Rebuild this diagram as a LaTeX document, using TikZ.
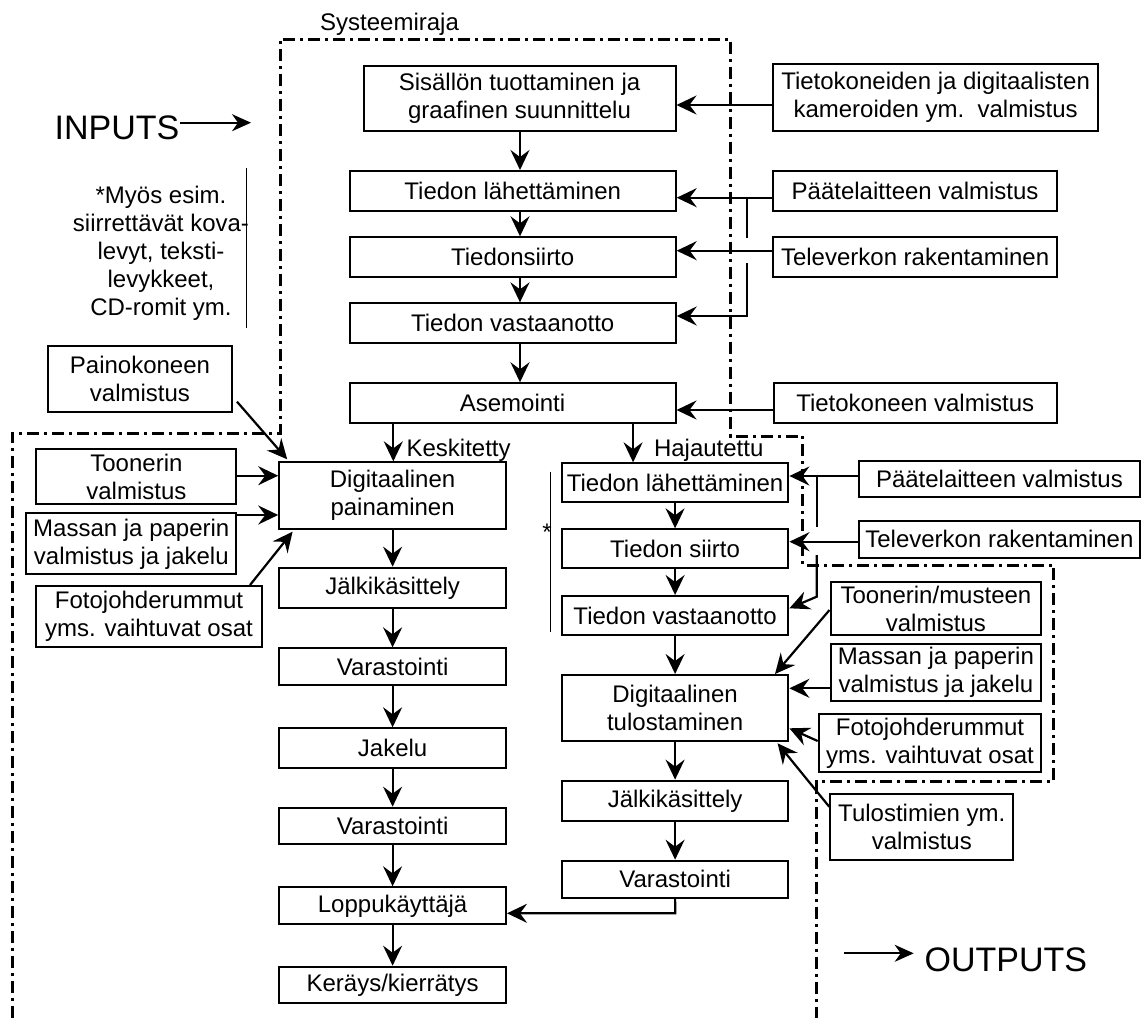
\documentclass[tikz,border=0pt]{standalone}
\usepackage{fontspec}
\setmainfont{Liberation Sans}
\usetikzlibrary{arrows.meta}
\begin{document}
\begin{tikzpicture}[x=1pt,y=-1pt,
  box/.style={draw, line width=2pt, inner sep=0pt, align=center, font=\fontsize{24}{28}\selectfont},
  lbl/.style={inner sep=0pt, font=\fontsize{24}{28}\selectfont},
  big/.style={inner sep=0pt, font=\fontsize{34}{40}\selectfont},
  arr/.style={line width=2.2pt, -{Stealth[length=20pt,width=19pt,inset=7pt]}},
  thinarr/.style={line width=1.8pt, -{Stealth[length=19pt,width=17pt,inset=6pt]}},
  ln/.style={line width=2.2pt},
  bar/.style={line width=1pt},
  bound/.style={line width=3pt, dash pattern=on 12pt off 5pt on 3pt off 5pt},
]
\useasboundingbox (0,0) rectangle (1141,1018);

% boundary
\draw[bound] (12,1018) -- (12,433) -- (280,433) -- (280,39) -- (730.5,39) -- (730.5,436)
  -- (802.6,436) -- (802.6,565) -- (1053.6,565) -- (1053.6,781.7) -- (816.7,781.7) -- (816.7,1018);

% labels
\node[lbl, anchor=base west] (sysraja) at (320,30) {Systeemiraja};
\node[big, anchor=base west] (inputs) at (54.5,139) {INPUTS};
\node[big, anchor=base west] (outputs) at (924.4,971.7) {OUTPUTS};
\node[lbl, align=center] (note) at (161,253) {*Myös esim.\\siirrettävät kova-\\levyt, teksti-\\levykkeet,\\CD-romit ym.};
\node[lbl, anchor=base east] (star) at (552,540) {*};
\node[lbl, anchor=base west] (kesk) at (406.4,456.5) {Keskitetty};
\node[lbl, anchor=base west] (haj) at (653.8,456.5) {Hajautettu};

% main column
\node[box, minimum width=312, minimum height=65.3] (sis) at (519.5,98.4) {Sisällön tuottaminen ja\\graafinen suunnittelu};
\node[box, minimum width=326, minimum height=40] (tl1) at (512.7,191) {Tiedon lähettäminen};
\node[box, minimum width=326, minimum height=40] (ts1) at (512.7,257.3) {Tiedonsiirto};
\node[box, minimum width=326, minimum height=39.7] (tv1) at (512.7,323.2) {Tiedon vastaanotto};
\node[box, minimum width=326, minimum height=39.4] (asem) at (512.5,403) {Asemointi};

% left column
\node[box, minimum width=226.8, minimum height=66.7] (dp) at (392.6,495.7) {Digitaalinen\\painaminen};
\node[box, minimum width=226.8, minimum height=40.6] (jk1) at (392.6,588) {Jälkikäsittely};
\node[box, minimum width=226.8, minimum height=36.7] (var1) at (392.6,666.7) {Varastointi};
\node[box, minimum width=226.8, minimum height=39.4] (jak) at (392.6,748) {Jakelu};
\node[box, minimum width=226.8, minimum height=36.6] (var2) at (392.6,826) {Varastointi};
\node[box, minimum width=226.8, minimum height=37] (lk) at (392.6,905.8) {Loppukäyttäjä};
\node[box, minimum width=226.8, minimum height=36.6] (ker) at (392.6,985) {Keräys/kierrätys};

% right column
\node[box, minimum width=226.6, minimum height=39] (tl2) at (675.1,482.8) {Tiedon lähettäminen};
\node[box, minimum width=226.6, minimum height=39] (ts2) at (675.1,548.8) {Tiedon siirto};
\node[box, minimum width=226.6, minimum height=39] (tv2) at (675.1,615.5) {Tiedon vastaanotto};
\node[box, minimum width=226.6, minimum height=66] (dt) at (675.1,708) {Digitaalinen\\tulostaminen};
\node[box, minimum width=226.6, minimum height=40.3] (jk2) at (675.1,800.8) {Jälkikäsittely};
\node[box, minimum width=226.6, minimum height=37] (var3) at (675.1,879.2) {Varastointi};

% right inputs
\node[box, minimum width=324.8, minimum height=66.4] (tk) at (935.6,97.5) {Tietokoneiden ja digitaalisten\\kameroiden ym.\ \ valmistus};
\node[box, minimum width=283.8, minimum height=40] (pv1) at (915.1,191) {Päätelaitteen valmistus};
\node[box, minimum width=283.8, minimum height=40] (tr1) at (915.1,257.3) {Televerkon rakentaminen};
\node[box, minimum width=282.9, minimum height=40] (tkv) at (915.2,402.7) {Tietokoneen valmistus};
\node[box, minimum width=280.9, minimum height=35.7] (pv2) at (999.4,478.9) {Päätelaitteen valmistus};
\node[box, minimum width=280.9, minimum height=36.7] (tr2) at (999.4,539.4) {Televerkon rakentaminen};
\node[box, minimum width=210.8, minimum height=52.7] (tm) at (935.9,608.7) {Toonerin/musteen\\valmistus};
\node[box, minimum width=210.8, minimum height=57] (mp2) at (935.9,672.5) {Massan ja paperin\\valmistus ja jakelu};
\node[box, minimum width=222.7, minimum height=58] (fj2) at (930,743.3) {Fotojohderummut\\yms. vaihtuvat osat};
\node[box, minimum width=183.2, minimum height=65.7] (tul) at (921.8,827.2) {Tulostimien ym.\\valmistus};

% left inputs
\node[box, minimum width=183.3, minimum height=65.7] (pk) at (140,378.9) {Painokoneen\\valmistus};
\node[box, minimum width=199.9, minimum height=55.3] (to) at (136.4,476.7) {Toonerin\\valmistus};
\node[box, minimum width=210.1, minimum height=61] (mp1) at (131.3,543.8) {Massan ja paperin\\valmistus ja jakelu};
\node[box, minimum width=225.3, minimum height=60.7] (fj1) at (149,616.4) {Fotojohderummut\\yms. vaihtuvat osat};

% thin bars
\draw[bar] (246,168) -- (246,328);
\draw[bar] (550.7,471.7) -- (550.7,631.7);

% INPUTS / OUTPUTS arrows
\coordinate (inend) at (251,122.7);
\coordinate (outstart) at (844,953.3);
\draw[thinarr] (inputs.east |- 0,122.7) -- (inend);
\draw[thinarr] (outstart) -- (913.7,953.3);

% main column flow
\draw[arr] (sis.south -| 520,0) -- (tl1.north -| 520,0);
\draw[arr] (tl1.south -| 520,0) -- (ts1.north -| 520,0);
\draw[arr] (ts1.south -| 520,0) -- (tv1.north -| 520,0);
\draw[arr] (tv1.south -| 520,0) -- (asem.north -| 520,0);
\draw[arr] (asem.south -| 393.3,0) -- (dp.north -| 393.3,0);
\draw[arr] (asem.south -| 633.1,0) -- (tl2.north -| 633.1,0);

% inputs to main column
\draw[arr] (tk.west |- 0,105) -- (sis.east |- 0,105);
\draw[arr] (pv1.west |- 0,197.7) -- (tl1.east |- 0,197.7);
\draw[arr] (tr1.west |- 0,250.7) -- (ts1.east |- 0,250.7);
\coordinate (b1a) at (746.6,197.7);
\coordinate (b1b) at (746.6,263);
\draw[ln] (b1a) -- (746.6,238);
\draw[arr] (b1b) -- (746.6,316) -- (tv1.east |- 0,316);
\draw[arr] (tkv.west |- 0,410) -- (asem.east |- 0,410);

% left column flow
\draw[arr] (dp) -- (jk1);
\draw[arr] (jk1) -- (var1);
\draw[arr] (var1) -- (jak);
\draw[arr] (jak) -- (var2);
\draw[arr] (var2) -- (lk);
\draw[arr] (lk) -- (ker);

% left inputs
\draw[arr] (237,401.7) -- (287.2,459.3);
\draw[arr] (to.east |- 0,475.7) -- (dp.west |- 0,475.7);
\draw[arr] (mp1.east |- 0,515) -- (dp.west |- 0,515);
\draw[arr] (fj1.north -| 250,0) -- (292.6,531.7);

% right column flow
\draw[arr] (tl2) -- (ts2);
\draw[arr] (ts2) -- (tv2);
\draw[arr] (tv2) -- (dt);
\draw[arr] (dt) -- (jk2);
\draw[arr] (jk2) -- (var3);
\draw[arr] (var3.south) -- (675.3,913.3) -- (lk.east |- 0,913.3);

% right inputs
\draw[arr] (pv2.west |- 0,476) -- (tl2.east |- 0,476);
\draw[arr] (tr2.west |- 0,541.7) -- (ts2.east |- 0,541.7);
\coordinate (b2a) at (816.7,476);
\coordinate (b2b) at (816.7,555);
\draw[ln] (b2a) -- (816.7,526.7);
\draw[arr] (b2b) -- (816.7,596.7) -- (tv2.east |- 0,608.3);
\draw[arr] (tm.west |- 0,610) -- (dt.north -| 775,0);
\draw[arr] (mp2.west |- 0,688.3) -- (dt.east |- 0,688.3);
\draw[arr] (fj2.west |- 0,741) -- (dt.east |- 0,728.3);
\draw[arr] (tul.west |- 0,806.7) -- (777.6,743.3);
\end{tikzpicture}
\end{document}
